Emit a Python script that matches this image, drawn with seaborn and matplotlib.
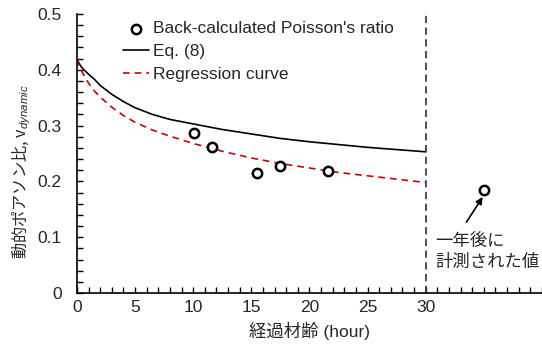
import pandas as pd
import matplotlib
matplotlib.use("Agg")
import matplotlib.pyplot as plt
from matplotlib.ticker import MultipleLocator, FuncFormatter
import seaborn as sns

# Back-calculated Poisson's ratio (measured points)
age_hours = [10.1, 11.6, 15.5, 17.5, 21.6]
poisson = [0.287, 0.261, 0.215, 0.227, 0.218]

# point measured one year later (drawn to the right of the 30 h line)
one_year_x = [35.0]
one_year_y = [0.185]

# Eq. (8)
eq8_t = [0, 0.25, 0.5, 1, 1.5, 2, 3, 4, 5, 6.5, 8, 10, 12.5, 15, 17.5, 20, 22.5, 25, 27.5, 30]
eq8_v = [0.419, 0.409, 0.402, 0.392, 0.383, 0.372, 0.356, 0.343, 0.332, 0.320, 0.311, 0.303,
         0.293, 0.285, 0.277, 0.271, 0.266, 0.261, 0.257, 0.253]

# Regression curve
reg_t = [0, 0.25, 0.5, 1, 1.5, 2, 3, 4, 5, 6.5, 8, 10, 12.5, 15, 17.5, 20, 22.5, 25, 27.5, 30]
reg_v = [0.419, 0.404, 0.394, 0.376, 0.362, 0.351, 0.333, 0.318, 0.306, 0.292, 0.281, 0.268,
         0.254, 0.242, 0.232, 0.224, 0.216, 0.210, 0.204, 0.198]

sns.set_style("ticks")
plt.rcParams["font.family"] = ["Liberation Sans", "Noto Sans CJK JP"]
plt.rcParams["mathtext.fontset"] = "custom"
plt.rcParams["mathtext.rm"] = "Liberation Sans"
plt.rcParams["mathtext.it"] = "Liberation Sans:italic"

fig = plt.figure(figsize=(5.42, 3.49), dpi=100)
ax = fig.add_axes([0.142, 0.1605, 0.858, 0.7994])

df_pts = pd.DataFrame({"t": age_hours, "v": poisson})
df_eq8 = pd.DataFrame({"t": eq8_t, "v": eq8_v})
df_reg = pd.DataFrame({"t": reg_t, "v": reg_v})

sns.scatterplot(data=df_pts, x="t", y="v", ax=ax, marker="o", s=45,
                facecolor="white", edgecolor="black", linewidth=1.8,
                label="Back-calculated Poisson's ratio", zorder=5)
sns.lineplot(data=df_eq8, x="t", y="v", ax=ax, color="black", linewidth=1.2,
             label="Eq. (8)")
sns.lineplot(data=df_reg, x="t", y="v", ax=ax, color="#cc0000", linewidth=1.2,
             dashes=False, label="Regression curve")
ax.lines[-1].set_dashes([4, 3])
ax.scatter(one_year_x, one_year_y, s=45, facecolor="white", edgecolor="black",
           linewidth=1.8, zorder=5)

# 30 hour boundary
ax.axvline(30, color="#404040", linewidth=1.3, dashes=[4, 2.5])

ax.annotate("", xy=(34.9, 0.172), xytext=(33.5, 0.127),
            arrowprops=dict(arrowstyle="-|>", color="black", lw=1.2,
                            shrinkA=0, shrinkB=0, mutation_scale=10))
ax.text(30.8, 0.093, "一年後に", fontsize=12.5, va="center", ha="left")
ax.text(30.8, 0.056, "計測された値", fontsize=12.5, va="center", ha="left")

ax.set_xlim(0, 40)
ax.set_ylim(0, 0.5)
ax.set_xticks([0, 5, 10, 15, 20, 25, 30])
ax.xaxis.set_minor_locator(MultipleLocator(1))
ax.yaxis.set_major_locator(MultipleLocator(0.1))
ax.yaxis.set_minor_locator(MultipleLocator(0.02))
ax.yaxis.set_major_formatter(FuncFormatter(lambda v, p: f"{v:g}"))
ax.tick_params(which="both", direction="in", labelsize=12.5, color="black")
ax.tick_params(which="major", length=4, width=1)
ax.tick_params(which="minor", length=4, width=1)
ax.tick_params(axis="x", pad=5)
ax.tick_params(axis="y", pad=11)

for side in ["top", "right"]:
    ax.spines[side].set_visible(False)
for side in ["left", "bottom"]:
    ax.spines[side].set_color("black")
    ax.spines[side].set_linewidth(1.2)

ax.set_xlabel("経過材齢 (hour)", fontsize=12.5, labelpad=5)
ax.set_ylabel("動的ポアソン比, v$_{\\mathit{dynamic}}$", fontsize=11.7,
              family="Noto Sans CJK JP")
ax.yaxis.set_label_coords(-0.095, 0.435)

ax.legend(loc="upper left", bbox_to_anchor=(0.1, 0.975), frameon=False,
          fontsize=12.5, handlelength=1.45, handletextpad=0.25,
          labelspacing=0.45, borderpad=0, borderaxespad=0, scatterpoints=1)

fig.savefig("out.png", dpi=100)
